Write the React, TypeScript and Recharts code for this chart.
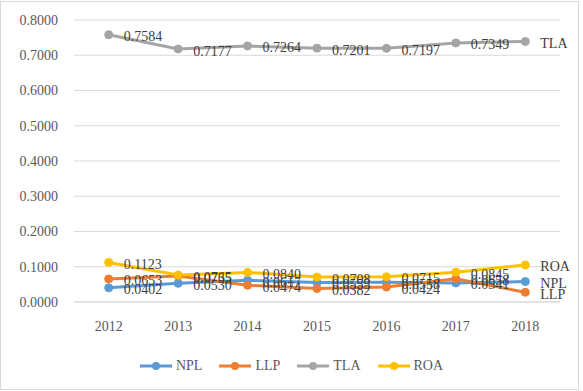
import React from 'react';
import { LineChart, Line, XAxis, YAxis, CartesianGrid, LabelList } from 'recharts';

const years = ['2012', '2013', '2014', '2015', '2016', '2017', '2018'];
const npl = [0.0402, 0.053, 0.0617, 0.0553, 0.0558, 0.0541, 0.058];
const llp = [0.0653, 0.0735, 0.0474, 0.0382, 0.0424, 0.0658, 0.0275];
const tla = [0.7584, 0.7177, 0.7264, 0.7201, 0.7197, 0.7349, 0.739];
const roa = [0.1123, 0.0765, 0.084, 0.0708, 0.0715, 0.0845, 0.105];
const yTicks = [0, 0.1, 0.2, 0.3, 0.4, 0.5, 0.6, 0.7, 0.8];

const series = [
  { key: 'NPL', values: npl, color: '#5B9BD5' },
  { key: 'LLP', values: llp, color: '#ED7D31' },
  { key: 'TLA', values: tla, color: '#A5A5A5' },
  { key: 'ROA', values: roa, color: '#FFC000' },
];

const data = years.map((y, i) => ({
  year: y,
  NPL: npl[i],
  LLP: llp[i],
  TLA: tla[i],
  ROA: roa[i],
}));

const FONT = '"Liberation Serif", "Times New Roman", serif';

const makeLabel = (name: string) => (props: any) => {
  const { x, y, value, index } = props;
  const last = index === years.length - 1;
  return (
    <text
      x={x + 15}
      y={y + 6.5}
      fontFamily={FONT}
      fontSize={14}
      fill="#404040"
      textAnchor="start"
    >
      {last ? name : Number(value).toFixed(4)}
    </text>
  );
};

export default function App() {
  return (
    <div style={{ position: 'absolute', left: 0, top: 0, width: 583, height: 391 }}>
      <div
        style={{
          position: 'absolute',
          left: 0,
          top: 1,
          width: 577,
          height: 387,
          border: '1px solid #d9d9d9',
        }}
      />
      <div style={{ position: 'absolute', left: 0, top: 0 }}>
        <LineChart
          width={580}
          height={390}
          data={data}
          margin={{ top: 20, right: 20, left: 0, bottom: 48 }}
        >
          <CartesianGrid vertical={false} stroke="#d9d9d9" strokeWidth={1} />
          <XAxis
            dataKey="year"
            height={40}
            padding={{ left: 34.7, right: 34.7 }}
            axisLine={{ stroke: '#d9d9d9' }}
            tickLine={false}
            tickSize={0}
            tickMargin={19}
            tick={{ fontFamily: FONT, fontSize: 14, fill: '#595959' }}
            interval={0}
          />
          <YAxis
            width={74}
            domain={[0, 0.8]}
            ticks={yTicks}
            axisLine={false}
            tickLine={false}
            tickSize={0}
            tickMargin={16}
            tickFormatter={(v: number) => v.toFixed(4)}
            tick={{ fontFamily: FONT, fontSize: 14, fill: '#595959' }}
          />
          {series.map((s) => (
            <Line
              key={s.key}
              type="linear"
              dataKey={s.key}
              stroke={s.color}
              strokeWidth={3}
              dot={{ r: 4, fill: s.color, stroke: s.color, strokeWidth: 1 }}
              isAnimationActive={false}
            >
              <LabelList dataKey={s.key} content={makeLabel(s.key)} />
            </Line>
          ))}
        </LineChart>
      </div>
      <div
        style={{
          position: 'absolute',
          left: 0,
          top: 357,
          width: 583,
          display: 'flex',
          justifyContent: 'center',
          fontFamily: FONT,
          fontSize: 14,
          color: '#595959',
        }}
      >
        {series.map((s, i) => (
          <div
            key={s.key}
            style={{
              display: 'flex',
              alignItems: 'center',
              marginRight: i === series.length - 1 ? 0 : 17,
              height: 18,
            }}
          >
            <svg width={32} height={10} style={{ marginRight: 4 }}>
              <line x1={0} y1={5} x2={32} y2={5} stroke={s.color} strokeWidth={3} />
              <circle cx={16} cy={5} r={4} fill={s.color} />
            </svg>
            <span>{s.key}</span>
          </div>
        ))}
      </div>
    </div>
  );
}
